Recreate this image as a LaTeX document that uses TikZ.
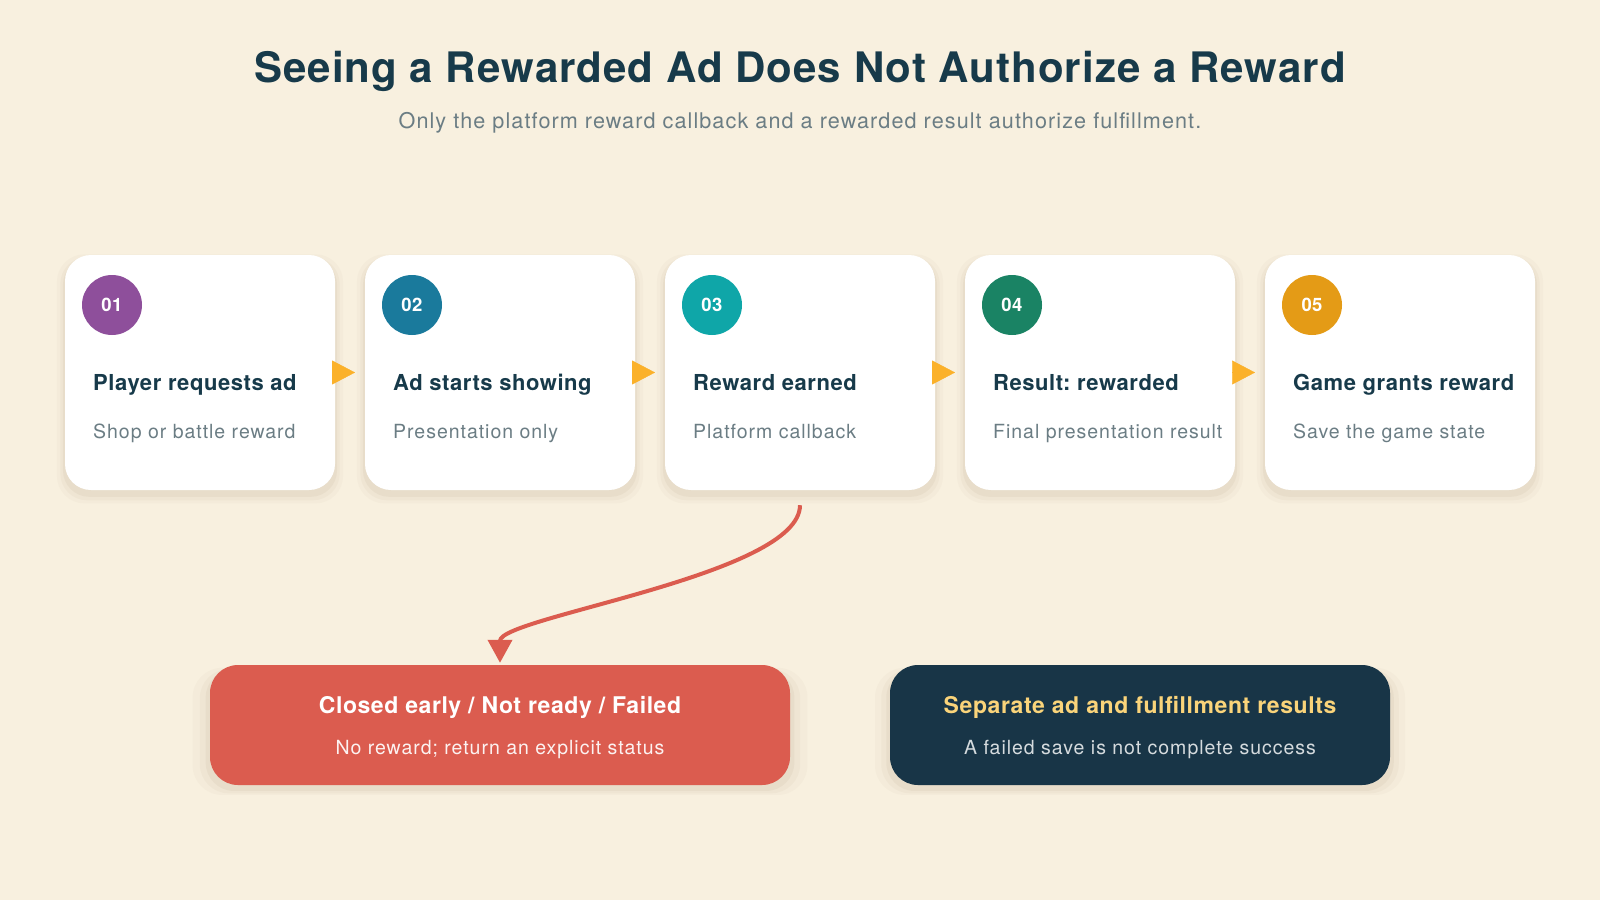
\documentclass[tikz,border=0pt]{standalone}
\usepackage{fontspec}
\setmainfont{TeX Gyre Heros}[LetterSpace=5]
\newfontfamily\headfont{TeX Gyre Heros}[LetterSpace=2.5]
\frenchspacing
\usepackage{tikz}
\usetikzlibrary{ arrows.meta, % For the flow and failure tips
                 shadows,     % For layered card shadows
               }
\definecolor{bgcream}{HTML}{F8F0DF}
\definecolor{shadowtan}{HTML}{B0A080}
\definecolor{inkdark}{HTML}{173A4A}
\definecolor{inkgray}{HTML}{6B7D84}
\definecolor{flowgold}{HTML}{FBB12A}
\definecolor{failred}{HTML}{DB5C4F}
\definecolor{notenavy}{HTML}{183547}
\definecolor{noteyellow}{HTML}{FAD47A}
\definecolor{stepA}{HTML}{8E4F9B}
\definecolor{stepB}{HTML}{1A7A9C}
\definecolor{stepC}{HTML}{0FA6A8}
\definecolor{stepD}{HTML}{1A8364}
\definecolor{stepE}{HTML}{E49B16}

\tikzstyle{soft_shadow} = [general shadow={fill=shadowtan, opacity=0.05, shadow yshift=-6pt, shadow scale=1.06},
                           general shadow={fill=shadowtan, opacity=0.07, shadow yshift=-6pt, shadow scale=1.035},
                           general shadow={fill=shadowtan, opacity=0.10, shadow yshift=-5pt, shadow scale=1.015}]
\tikzstyle{card} = [rectangle, rounded corners=26pt, fill=white, minimum width=270pt, minimum height=235pt, soft_shadow]
\tikzstyle{badge} = [circle, minimum size=60pt, inner sep=0pt, text=white, font=\headfont\fontsize{18.5}{20}\selectfont\bfseries]
\tikzstyle{card_title} = [anchor=base west, inner sep=0pt, text=inkdark, font=\headfont\fontsize{22}{24}\selectfont\bfseries]
\tikzstyle{card_sub} = [anchor=base west, inner sep=0pt, text=inkgray, font=\fontsize{19.5}{22}\selectfont]
\tikzstyle{flow} = [-{Triangle[length=23pt, width=24pt, round]}, draw=flowgold, line width=0.4pt, shorten >=10pt]
\tikzstyle{fail_edge} = [-{Triangle[length=23pt, width=24pt]}, draw=failred, line width=4pt, shorten <=15pt, shorten >=2pt]
\tikzstyle{outcome} = [rectangle, rounded corners=28pt, minimum height=120pt, soft_shadow]
\tikzstyle{outcome_title} = [anchor=base, inner sep=0pt, font=\headfont\fontsize{23}{26}\selectfont\bfseries]
\tikzstyle{outcome_sub} = [anchor=base, inner sep=0pt, font=\fontsize{19.5}{22}\selectfont]

\begin{document}
\begin{tikzpicture}[x=1pt, y=-1pt]
  \fill [bgcream] (0, 0) rectangle (1600, 900);
  \useasboundingbox (0, 0) rectangle (1600, 900);

  \node (title) [anchor=base, text=inkdark, font=\headfont\fontsize{42}{46}\selectfont\bfseries] at (800, 82)
    {Seeing a Rewarded Ad Does Not Authorize a Reward};
  \node (subtitle) [anchor=base, text=inkgray, font=\fontsize{21.6}{24}\selectfont] at (800, 128)
    {Only the platform reward callback and a rewarded result authorize fulfillment.};

  \node (c1) [card] at (200, 372.5) {};
  \node (b1) [badge, fill=stepA] at (112, 305) {01};
  \node (t1) [card_title] at (93, 390) {Player requests ad};
  \node (s1) [card_sub] at (93, 438) {Shop or battle reward};

  \node (c2) [card] at (500, 372.5) {};
  \node (b2) [badge, fill=stepB] at (412, 305) {02};
  \node (t2) [card_title] at (393, 390) {Ad starts showing};
  \node (s2) [card_sub] at (393, 438) {Presentation only};

  \node (c3) [card] at (800, 372.5) {};
  \node (b3) [badge, fill=stepC] at (712, 305) {03};
  \node (t3) [card_title] at (693, 390) {Reward earned};
  \node (s3) [card_sub] at (693, 438) {Platform callback};

  \node (c4) [card] at (1100, 372.5) {};
  \node (b4) [badge, fill=stepD] at (1012, 305) {04};
  \node (t4) [card_title] at (993, 390) {Result: rewarded};
  \node (s4) [card_sub] at (993, 438) {Final presentation result};

  \node (c5) [card] at (1400, 372.5) {};
  \node (b5) [badge, fill=stepE] at (1312, 305) {05};
  \node (t5) [card_title] at (1293, 390) {Game grants reward};
  \node (s5) [card_sub] at (1293, 438) {Save the game state};

  \draw [flow] (c1.east) -- (c2.west);
  \draw [flow] (c2.east) -- (c3.west);
  \draw [flow] (c3.east) -- (c4.west);
  \draw [flow] (c4.east) -- (c5.west);

  \node (fail) [outcome, fill=failred, minimum width=580pt] at (500, 725) {};
  \node (fail_t) [outcome_title, text=white] at (500, 713) {Closed early / Not ready / Failed};
  \node (fail_s) [outcome_sub, text=white!92!failred] at (500, 754) {No reward; return an explicit status};

  \node (note) [outcome, fill=notenavy, minimum width=500pt] at (1140, 725) {};
  \node (note_t) [outcome_title, text=noteyellow] at (1140, 713) {Separate ad and fulfillment results};
  \node (note_s) [outcome_sub, text=white!82!notenavy] at (1140, 754) {A failed save is not complete success};

  \draw [fail_edge] (c3.south) .. controls +(0, 85) and +(0, -48) .. (fail.north);
\end{tikzpicture}
\end{document}
